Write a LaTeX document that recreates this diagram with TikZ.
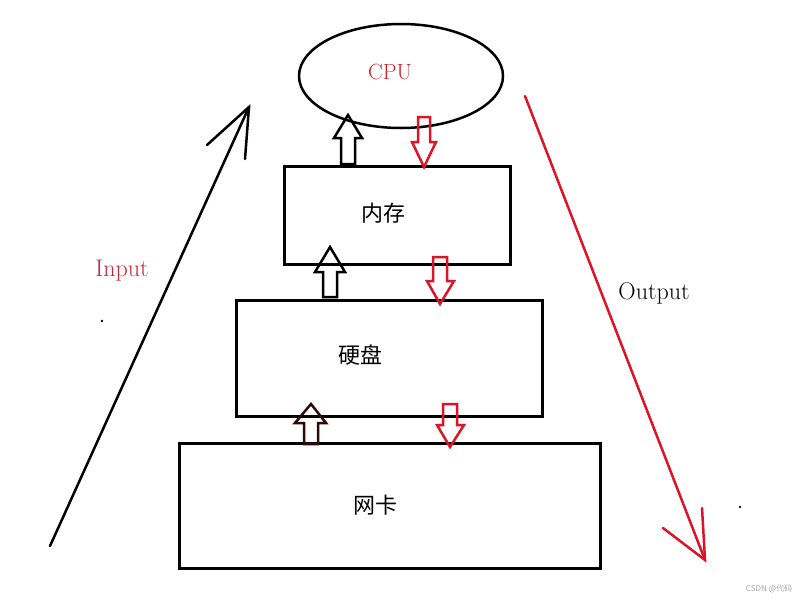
\documentclass[tikz,border=0pt]{standalone}
\usepackage{fontspec}
\newfontfamily\cjk{Noto Sans CJK SC}
\usetikzlibrary{shapes.geometric}
\definecolor{cpured}{RGB}{205,35,45}
\definecolor{inred}{RGB}{195,40,60}
\definecolor{outred}{RGB}{220,20,40}
\definecolor{darkup}{RGB}{45,10,10}
\begin{document}
\begin{tikzpicture}[x=1pt,y=-1pt,
  box/.style={draw, line width=3pt, inner sep=0pt},
  lbl/.style={inner sep=0pt, font=\cjk\fontsize{22}{24}\selectfont},
  eng/.style={inner sep=0pt, font=\fontsize{24}{28}\selectfont},
  uparr/.style={draw=black, line width=2.5pt, line join=miter},
  downarr/.style={draw=outred, line width=2.5pt, line join=miter},
  bigarr/.style={line width=2.5pt, line cap=round}]
\useasboundingbox (0,0) rectangle (800,600);
\fill[white] (0,0) rectangle (800,600);
% CPU
\node[draw, ellipse, line width=2.5pt, minimum width=204pt, minimum height=104pt] (cpu) at (401,76) {};
\node[inner sep=0pt, text=cpured, font=\fontsize{22}{26}\selectfont] (cputxt) at (390,72) {CPU};
% boxes
\node[box, minimum width=226pt, minimum height=98pt] (mem) at (397,215) {};
\node[lbl] (memtxt) at (383,213) {内存};
\node[box, minimum width=306pt, minimum height=116pt] (disk) at (389,358) {};
\node[lbl] (disktxt) at (360,355) {硬盘};
\node[box, minimum width=421pt, minimum height=125pt] (nic) at (389.5,505.5) {};
\node[lbl] (nictxt) at (375,505) {网卡};
% block arrows up
\draw[uparr] (341,164) -- (341,138) -- (334,138) -- (348,115) -- (362,138) -- (355,138) -- (355,164) -- cycle;
\draw[uparr] (323,297) -- (323,272) -- (315,272) -- (330,247) -- (345,272) -- (337,272) -- (337,297) -- cycle;
\draw[uparr, draw=darkup] (304,444) -- (304,423) -- (295,423) -- (311,404) -- (326,423) -- (318,423) -- (318,444) -- cycle;
% block arrows down
\draw[downarr] (418,117) -- (430,117) -- (430,142) -- (436,142) -- (424,167) -- (412,142) -- (418,142) -- cycle;
\draw[downarr] (433,257) -- (447,257) -- (447,281) -- (454,281) -- (440,304) -- (427,281) -- (433,281) -- cycle;
\draw[downarr] (443,404) -- (457,404) -- (457,425) -- (464,425) -- (450,447) -- (437,425) -- (443,425) -- cycle;
% Input arrow
\coordinate (inS) at (50,546);
\coordinate (inT) at (249,107);
\coordinate (inB1) at (207,145);
\coordinate (inB2) at (245,159);
\draw[bigarr] (inS) -- (inT);
\draw[bigarr] (inB1) -- (inT) -- (inB2);
\node[eng, text=inred] (intxt) at (122,271) {Input};
% Output arrow
\coordinate (outS) at (525,96);
\coordinate (outT) at (705,560);
\coordinate (outB1) at (663,528);
\coordinate (outB2) at (702,508);
\draw[bigarr, draw=outred] (outS) -- (outT);
\draw[bigarr, draw=outred] (outB1) -- (outT) -- (outB2);
\node[eng] (outtxt) at (654,293) {Output};
% dots
\fill (102,321) circle (1.3);
\fill[darkup] (740,507) circle (1.3);
% watermark
\node[inner sep=0pt, text=gray!70, font=\cjk\fontsize{8}{9}\selectfont] (wm) at (769,589) {CSDN @代码};
\end{tikzpicture}
\end{document}
